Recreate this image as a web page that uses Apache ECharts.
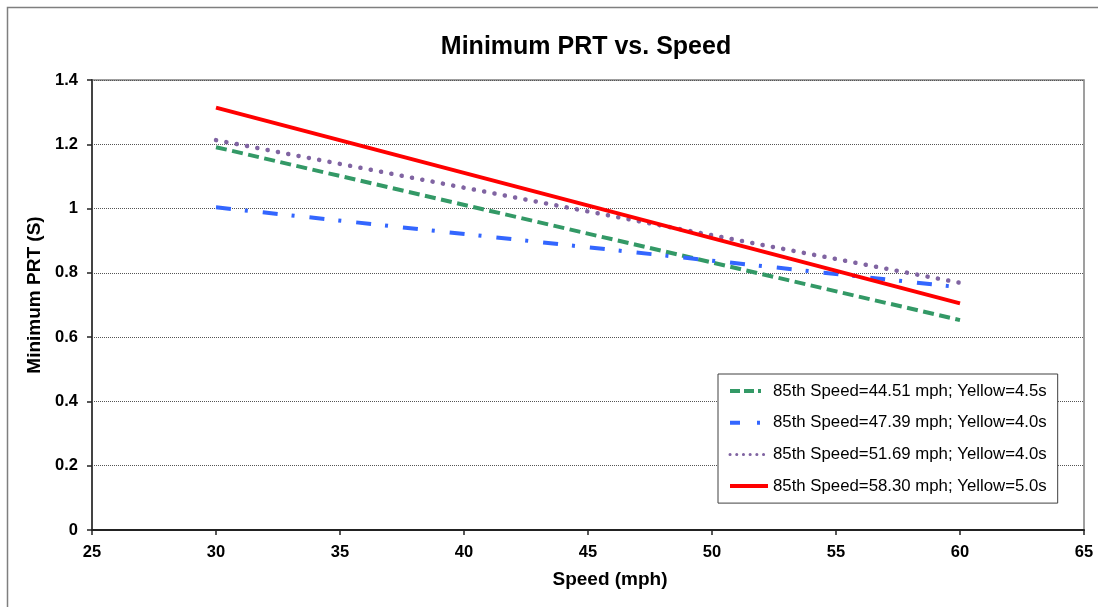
<!DOCTYPE html>
<html>
<head>
<meta charset="utf-8">
<script src="https://cdn.jsdelivr.net/npm/echarts@6/dist/echarts.min.js"></script>
<style>
  html, body { margin: 0; padding: 0; background: #ffffff; }
  #chart { width: 1098px; height: 607px; }
</style>
</head>
<body>
<div id="chart"></div>
<script>
// Approach speed (mph) at which each curve is evaluated
const speeds = [30, 60];

// Minimum perception-reaction time (s) for each site
const site1 = [1.191, 0.653];  // 85th 44.51 mph, yellow 4.5 s
const site2 = [1.004, 0.755];  // 85th 47.39 mph, yellow 4.0 s
const site3 = [1.213, 0.769];  // 85th 51.69 mph, yellow 4.0 s
const site4 = [1.314, 0.705];  // 85th 58.30 mph, yellow 5.0 s

const seriesNames = [
  '85th Speed=44.51 mph; Yellow=4.5s',
  '85th Speed=47.39 mph; Yellow=4.0s',
  '85th Speed=51.69 mph; Yellow=4.0s',
  '85th Speed=58.30 mph; Yellow=5.0s'
];

const colors = ['#339966', '#3366ff', '#8064a2', '#ff0000'];

const pairs = (ys) => speeds.map((x, i) => [x, ys[i]]);

const chart = echarts.init(document.getElementById('chart'), null, { renderer: 'canvas' });

const baseFont = '"Liberation Sans", Arial, sans-serif';

// Short line samples shown in the legend box
const legendStyles = [
  { color: colors[0], width: 4, type: [10, 4, 10, 4, 3, 20], cap: 'butt' },
  { color: colors[1], width: 4, type: [10, 17, 3, 20], cap: 'butt' },
  { color: colors[2], width: 3, type: [0.1, 6.6], cap: 'round' },
  { color: colors[3], width: 4, type: 'solid', cap: 'butt' }
];

chart.setOption({
  backgroundColor: '#ffffff',
  animation: false,
  title: {
    text: 'Minimum PRT vs. Speed',
    left: 581,
    textAlign: 'center',
    top: 30,
    textStyle: { fontFamily: baseFont, fontSize: 25, fontWeight: 'bold', color: '#000' }
  },
  graphic: [{
    type: 'rect',
    shape: { x: 7.5, y: 7.5, width: 1120, height: 640 },
    style: { fill: 'none', stroke: '#7f7f7f', lineWidth: 1.5 },
    silent: true,
    z: -1
  }],
  grid: {
    left: 92, right: 14, top: 80, bottom: 77,
    show: true,
    borderColor: '#808080',
    borderWidth: 1.5,
    backgroundColor: '#ffffff'
  },
  legend: {
    orient: 'vertical',
    left: 718,
    top: 374,
    padding: [8.5, 11, 8.5, 10],
    itemGap: 14.7,
    itemWidth: 38,
    itemHeight: 14,
    borderColor: '#404040',
    borderWidth: 1,
    backgroundColor: '#ffffff',
    itemStyle: { opacity: 0 },
    textStyle: { fontFamily: baseFont, fontSize: 16.8, color: '#000' },
    data: seriesNames.map((name, i) => ({ name, lineStyle: legendStyles[i] }))
  },
  xAxis: {
    type: 'value',
    min: 25, max: 65, interval: 5,
    name: 'Speed (mph)',
    nameLocation: 'middle',
    nameGap: 40,
    nameTextStyle: { fontFamily: baseFont, fontSize: 19, fontWeight: 'bold', color: '#000', padding: [0, 0, 0, 44] },
    axisLine: { show: true, onZero: false, lineStyle: { color: '#222', width: 2 } },
    axisTick: { show: true, inside: false, length: 5, lineStyle: { color: '#222', width: 1.5 } },
    axisLabel: { fontFamily: baseFont, fontSize: 16.5, fontWeight: 'bold', color: '#000', margin: 14 },
    splitLine: { show: false }
  },
  yAxis: {
    type: 'value',
    min: 0, max: 1.4, interval: 0.2,
    name: 'Minimum PRT (S)',
    nameLocation: 'middle',
    nameGap: 47,
    nameRotate: 90,
    nameTextStyle: { fontFamily: baseFont, fontSize: 19, fontWeight: 'bold', color: '#000', padding: [0, 0, 0, 20] },
    axisLine: { show: true, lineStyle: { color: '#444', width: 2 } },
    axisTick: { show: true, inside: false, length: 5, lineStyle: { color: '#222', width: 1.5 } },
    axisLabel: {
      fontFamily: baseFont, fontSize: 16.5, fontWeight: 'bold', color: '#000', margin: 14,
      formatter: (v) => String(Math.round(v * 10) / 10)
    },
    splitLine: { show: true, lineStyle: { color: '#555', width: 1, type: [1, 1] } }
  },
  series: [
    {
      name: seriesNames[0], type: 'line', data: pairs(site1),
      symbol: 'none', z: 3,
      lineStyle: { color: colors[0], width: 4, type: [11, 5.5], cap: 'butt' },
      itemStyle: { color: colors[0] }
    },
    {
      name: seriesNames[1], type: 'line', data: pairs(site2),
      symbol: 'none', z: 3,
      lineStyle: { color: colors[1], width: 4, type: [15, 14, 3, 15], cap: 'butt' },
      itemStyle: { color: colors[1] }
    },
    {
      name: seriesNames[2], type: 'line', data: pairs(site3),
      symbol: 'none', z: 3,
      lineStyle: { color: colors[2], width: 4.5, type: [0.1, 10.4], cap: 'round' },
      itemStyle: { color: colors[2] }
    },
    {
      name: seriesNames[3], type: 'line', data: pairs(site4),
      symbol: 'none', z: 3,
      lineStyle: { color: colors[3], width: 4, type: 'solid' },
      itemStyle: { color: colors[3] }
    }
  ]
});
</script>
</body>
</html>
